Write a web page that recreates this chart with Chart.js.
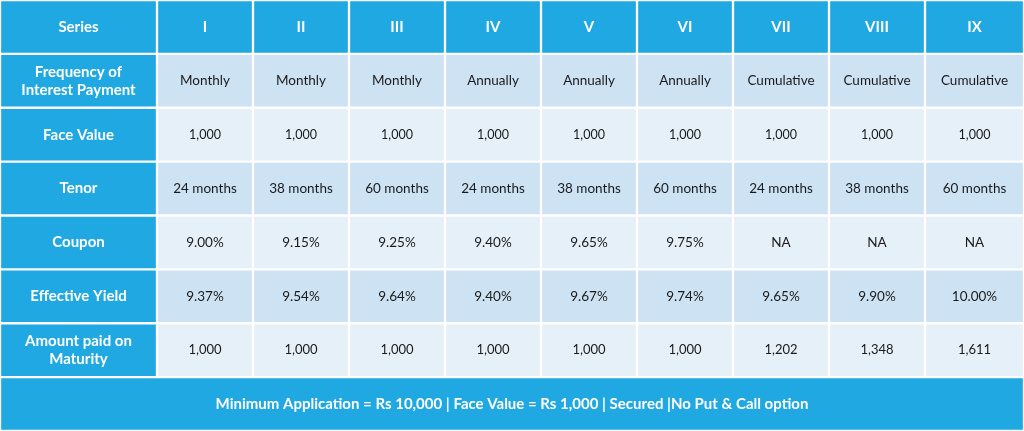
<!DOCTYPE html>
<html>
<head>
<meta charset="utf-8">
<script src="https://cdn.jsdelivr.net/npm/chart.js@4.4.1/dist/chart.umd.min.js"></script>
<style>
  html, body { margin: 0; padding: 0; background: #fff; }
  #wrap { width: 1024px; height: 431px; }
</style>
</head>
<body>
<div id="wrap"><canvas id="table"></canvas></div>
<script>
// table content
var seriesNames = ["I", "II", "III", "IV", "V", "VI", "VII", "VIII", "IX"];
var rowLabels = ["Frequency of\nInterest Payment", "Face Value", "Tenor", "Coupon", "Effective Yield", "Amount paid on\nMaturity"];
var frequency = ["Monthly", "Monthly", "Monthly", "Annually", "Annually", "Annually", "Cumulative", "Cumulative", "Cumulative"];
var faceValue = ["1,000", "1,000", "1,000", "1,000", "1,000", "1,000", "1,000", "1,000", "1,000"];
var tenor = ["24 months", "38 months", "60 months", "24 months", "38 months", "60 months", "24 months", "38 months", "60 months"];
var coupon = ["9.00%", "9.15%", "9.25%", "9.40%", "9.65%", "9.75%", "NA", "NA", "NA"];
var effectiveYield = ["9.37%", "9.54%", "9.64%", "9.40%", "9.67%", "9.74%", "9.65%", "9.90%", "10.00%"];
var maturityAmount = ["1,000", "1,000", "1,000", "1,000", "1,000", "1,000", "1,202", "1,348", "1,611"];
var footerText = "Minimum Application = Rs 10,000 | Face Value = Rs 1,000 | Secured |No Put & Call option";
var columnEdges = [0, 157, 253, 349, 445, 541, 637, 733, 829, 925, 1024];

var rows = ["head", "r1", "r2", "r3", "r4", "r5", "r6", "foot"];
var bodyRows = [frequency, faceValue, tenor, coupon, effectiveYield, maturityAmount];

var BLUE = "#1fa8e1";
var LIGHT1 = "#cde3f4";
var LIGHT2 = "#e5f0f9";

// one dataset per column, floating horizontal bars = cells
var datasets = [];
for (var c = 0; c < 10; c++) {
  var data = [], colors = [], texts = [];
  for (var r = 0; r < 7; r++) {
    data.push([columnEdges[c], columnEdges[c + 1]]);
    if (r == 0 || c == 0) colors.push(BLUE);
    else colors.push(r % 2 == 1 ? LIGHT1 : LIGHT2);
    if (r == 0) texts.push(c == 0 ? "Series" : seriesNames[c - 1]);
    else if (c == 0) texts.push(rowLabels[r - 1]);
    else texts.push(bodyRows[r - 1][c - 1]);
  }
  data.push(null); colors.push(BLUE); texts.push("");
  datasets.push({ data: data, backgroundColor: colors, texts: texts, col: c });
}
datasets.push({
  data: [null, null, null, null, null, null, null, [columnEdges[0], columnEdges[10]]],
  backgroundColor: BLUE, texts: ["", "", "", "", "", "", "", footerText], col: -1
});
datasets.forEach(function (d) {
  d.borderColor = "#ffffff";
  d.borderWidth = 1.5;
  d.borderSkipped = false;
  d.barPercentage = 1;
  d.categoryPercentage = 1;
  d.grouped = false;
});

var cellText = {
  id: "cellText",
  afterDatasetsDraw: function (chart) {
    var ctx = chart.ctx;
    ctx.save();
    ctx.textAlign = "center";
    ctx.textBaseline = "middle";
    chart.data.datasets.forEach(function (ds, i) {
      chart.getDatasetMeta(i).data.forEach(function (bar, r) {
        var t = ds.texts[r];
        if (!t) return;
        var bold = r == 0 || r == 7 || ds.col == 0;
        var size = bold ? 15 : (r == 2 || r == 6 ? 12.5 : 13.5);
        if (r == 6 && ds.col > 0) size = 13;
        ctx.font = (bold ? "bold " : "") + size + "px Lato, 'DejaVu Sans', sans-serif";
        ctx.fillStyle = bold ? "#ffffff" : "#1a1a1a";
        var lines = t.split("\n");
        var cx = (bar.x + bar.base) / 2;
        var lh = 18;
        lines.forEach(function (ln, k) {
          ctx.fillText(ln, cx, bar.y + (k - (lines.length - 1) / 2) * lh);
        });
      });
    });
    ctx.restore();
  }
};

new Chart(document.getElementById("table").getContext("2d"), {
  type: "bar",
  data: { labels: rows, datasets: datasets },
  options: {
    indexAxis: "y",
    responsive: true,
    maintainAspectRatio: false,
    animation: false,
    layout: { padding: 0 },
    plugins: { legend: { display: false }, tooltip: { enabled: false } },
    scales: {
      x: { type: "linear", min: 0, max: 1024, display: false },
      y: { type: "category", display: false, offset: true }
    }
  },
  plugins: [cellText]
});
</script>
</body>
</html>
